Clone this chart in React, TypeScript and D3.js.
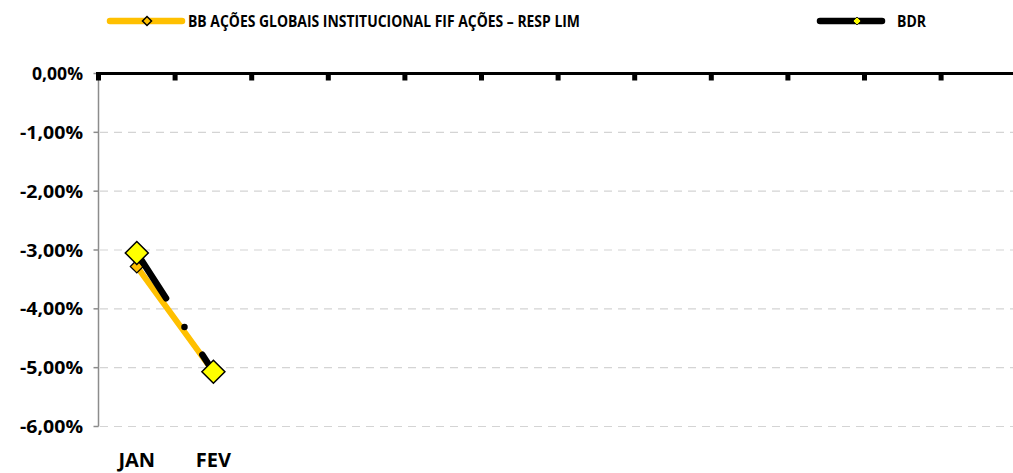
import React from "react";
import * as d3 from "d3";

const months = ["JAN", "FEV", "MAR", "ABR", "MAI", "JUN", "JUL", "AGO", "SET", "OUT", "NOV", "DEZ"];
const monthLabels = ["JAN", "FEV", "", "", "", "", "", "", "", "", "", ""];
const bbValues = [-3.28, -5.07];
const bdrValues = [-3.05, -5.07];
const yTicks = [0, -1, -2, -3, -4, -5, -6];
const seriesNames = ["BB AÇÕES GLOBAIS INSTITUCIONAL FIF AÇÕES – RESP LIM", "BDR"];

const W = 1013;
const H = 473;
const FONT = "'Open Sans', 'Liberation Sans', sans-serif";

export default function App() {
  const x = d3.scaleBand<string>().domain(months).range([98.5, 98.5 + 12 * 76.6]).padding(0);
  const y = d3.scaleLinear().domain([-6, 0]).range([426.5, 73.5]);
  const cx = (i: number) => (x(months[i]) as number) + x.bandwidth() / 2;
  const line = d3.line<number>().x((_, i) => cx(i)).y((d) => y(d));
  const fmt = (v: number) => v.toFixed(2).replace(".", ",") + "%";
  const diamond = (px: number, py: number, r: number) =>
    `M${px},${py - r}L${px + r},${py}L${px},${py + r}L${px - r},${py}Z`;
  const ORANGE = "#FFC000";
  const YELLOW = "#FFFF00";
  const LEG_Y = 21;

  return (
    <svg width={W} height={H} style={{ position: "absolute", left: 0, top: 0, background: "#fff" }} fontFamily={FONT}>
      {/* gridlines */}
      {yTicks.filter((t) => t !== 0).map((t) => (
        <line key={"g" + t} x1={100} x2={W} y1={y(t)} y2={y(t)} stroke="#d4d4d4" strokeWidth={1.2} strokeDasharray="8 6" />
      ))}
      {/* y axis */}
      <line x1={98.5} x2={98.5} y1={y(0)} y2={y(-6)} stroke="#8c8c8c" strokeWidth={1.5} />
      {yTicks.map((t) => (
        <line key={"yt" + t} x1={93.5} x2={98.5} y1={y(t)} y2={y(t)} stroke="#8c8c8c" strokeWidth={1.5} />
      ))}
      {yTicks.map((t) => (
        <text key={"yl" + t} x={83} y={y(t) + 6.5} textAnchor="end" fontSize={17} fontWeight="bold" fill="#000"
          textLength={t === 0 ? 51 : 63} lengthAdjust="spacingAndGlyphs">
          {fmt(t)}
        </text>
      ))}
      {/* zero line with ticks */}
      <line x1={96} x2={W} y1={y(0)} y2={y(0)} stroke="#000" strokeWidth={3.2} />
      {months.map((m) => (
        <rect key={"xt" + m} x={(x(m) as number) - 2.5} y={y(0)} width={5} height={7} fill="#000" />
      ))}
      {/* x labels */}
      {monthLabels.map((m, i) =>
        m ? (
          <text key={"xl" + i} x={cx(i)} y={467} textAnchor="middle" fontSize={20} fontWeight="bold" fill="#000">
            {m}
          </text>
        ) : null
      )}
      {/* BB series */}
      <path d={line(bbValues) || ""} fill="none" stroke={ORANGE} strokeWidth={6} strokeLinecap="round" />
      {bbValues.map((v, i) => (
        <path key={"bbm" + i} d={diamond(cx(i), y(v), 6.5)} fill={ORANGE} stroke="#000" strokeWidth={1.2} />
      ))}
      {/* BDR series */}
      <path d={line(bdrValues) || ""} fill="none" stroke="#000" strokeWidth={6.5} strokeLinecap="round" strokeDasharray="54 34 0 33" />
      {bdrValues.map((v, i) => (
        <path key={"bdm" + i} d={diamond(cx(i), y(v), 11.5)} fill={YELLOW} stroke="#000" strokeWidth={1.5} />
      ))}
      {/* legend */}
      <line x1={110} x2={182} y1={LEG_Y} y2={LEG_Y} stroke={ORANGE} strokeWidth={6.5} strokeLinecap="round" />
      <path d={diamond(147, LEG_Y, 4.5)} fill={ORANGE} stroke="#000" strokeWidth={1.5} />
      <text x={188} y={LEG_Y + 5.5} fontSize={15.5} fontWeight="bold" textLength={392} lengthAdjust="spacingAndGlyphs">
        {seriesNames[0]}
      </text>
      <line x1={820} x2={882} y1={LEG_Y} y2={LEG_Y} stroke="#000" strokeWidth={6.5} strokeLinecap="round" />
      <path d={diamond(857, LEG_Y, 4)} fill={YELLOW} stroke="#000" strokeWidth={0.8} />
      <text x={897} y={LEG_Y + 5.5} fontSize={15.5} fontWeight="bold" textLength={29} lengthAdjust="spacingAndGlyphs">
        {seriesNames[1]}
      </text>
    </svg>
  );
}
